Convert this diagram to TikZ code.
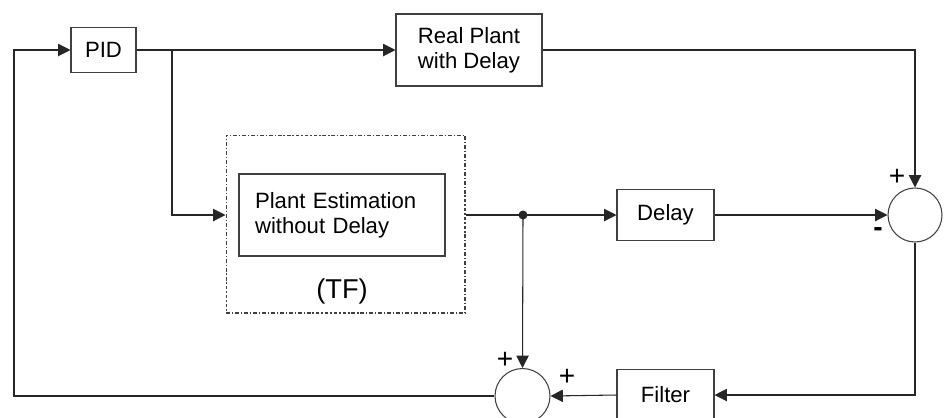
\documentclass[tikz,border=0pt]{standalone}
\usepackage{fontspec}
\setmainfont{Liberation Sans}
\usetikzlibrary{arrows.meta}
\tikzset{
  block/.style={draw=black!75,line width=0.6pt,minimum width=1.94cm,minimum height=1.02cm,inner sep=0pt,align=center},
  sumnode/.style={draw=black!75,line width=0.6pt,circle,minimum size=1.08cm,inner sep=0pt},
  arr/.style={-{Triangle[length=7pt,width=7pt]},line width=0.6pt,draw=black!85},
  sign/.style={inner sep=0pt,font=\fontsize{16}{17}\selectfont}
}
\begin{document}
\begin{tikzpicture}[x=0.02cm,y=-0.02cm,font=\fontsize{12.6}{14}\selectfont]
  \useasboundingbox (0,0) rectangle (945,417);
  \clip (0,0) rectangle (945,417);

  \node[block,minimum width=1.3cm,minimum height=0.9cm] (pid) at (103.5,50) {PID};
  \node[block,minimum width=2.92cm,minimum height=1.44cm] (plant) at (469,50) {Real Plant\\with Delay};
  \node[draw=black!75,line width=0.6pt,dash pattern=on 2.2pt off 1.1pt on 0.7pt off 1.1pt,
        minimum width=4.78cm,minimum height=3.56cm] (tf) at (345.5,224) {};
  \node[block,minimum width=4.12cm,minimum height=1.64cm,text width=3.48cm,align=left] (est) at (342,215) {Plant Estimation\\without Delay};
  \node[font=\fontsize{15.5}{17}\selectfont] (tflabel) at (342,291) {(TF)};
  \node[block] (delay) at (665.5,215) {Delay};
  \node[block] (filter) at (665.5,395) {Filter};
  \node[sumnode] (sum1) at (915,215) {};
  \node[sumnode,minimum size=1.1cm] (sum2) at (522.5,396) {};
  \coordinate (branch) at (172,50);
  \coordinate (lc) at (14,396);
  \fill[black!85] (523,215) circle (4.5) coordinate (dot);

  % forward paths
  \draw[arr] (pid.east) -- (plant.west);
  \draw[arr] (branch) |- (tf.west |- est);
  \draw[arr] (plant.east) -| (sum1.north);
  \draw[arr] (tf.east |- est) -- (delay.west);
  \draw[arr] (delay.east) -- (sum1.west);
  \draw[arr] (dot) -- (sum2.north);
  % feedback
  \draw[arr] (sum1.south) |- (filter.east);
  \draw[arr] (filter.west) -- (sum2.east);
  \draw[arr] (sum2.west) -- (lc) |- (pid.west);

  \node[sign] (p1) at (897,177) {+};
  \node[sign] (m1) at (878,232) {\bfseries -};
  \node[sign] (p2) at (505,360) {+};
  \node[sign] (p3) at (567,377) {+};
\end{tikzpicture}
\end{document}
